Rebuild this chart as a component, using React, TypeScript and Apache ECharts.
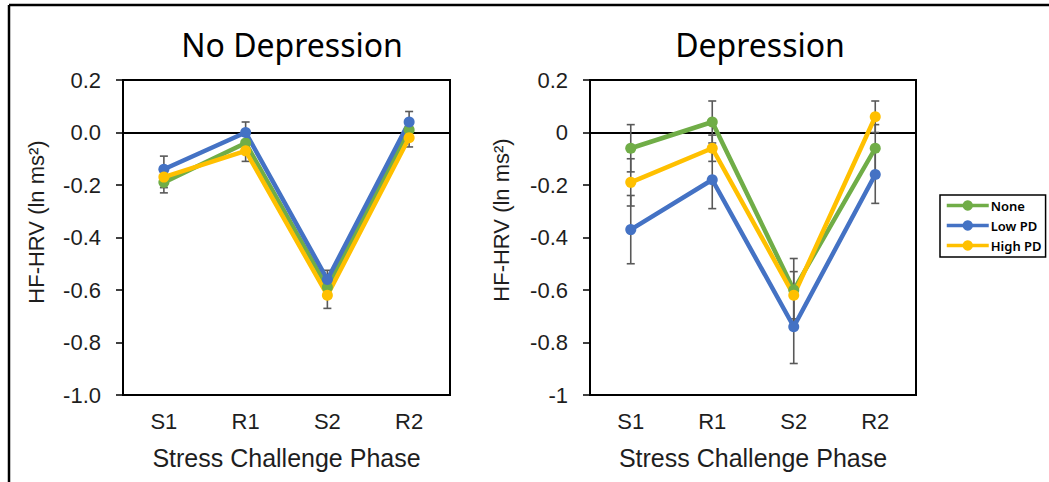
import React, { useEffect, useRef } from "react";
import * as echarts from "echarts";

const categories = ["S1", "R1", "S2", "R2"];
const seriesNames = ["None", "Low PD", "High PD"];
const colors = ["#70AD47", "#4472C4", "#FFC000"];
const yTicks = [-1, -0.8, -0.6, -0.4, -0.2, 0, 0.2];

// No Depression
const noDepNone = [-0.19, -0.04, -0.59, 0.01];
const noDepLow = [-0.14, 0.0, -0.56, 0.04];
const noDepHigh = [-0.17, -0.07, -0.62, -0.02];
const noDepNoneErr = [0.04, 0.04, 0.04, 0.04];
const noDepLowErr = [0.05, 0.04, 0.035, 0.04];
const noDepHighErr = [0.04, 0.04, 0.05, 0.035];

// Depression
const depNone = [-0.06, 0.04, -0.6, -0.06];
const depLow = [-0.37, -0.18, -0.74, -0.16];
const depHigh = [-0.19, -0.06, -0.62, 0.06];
const depNoneErr = [0.09, 0.08, 0.12, 0.09];
const depLowErr = [0.13, 0.11, 0.14, 0.11];
const depHighErr = [0.09, 0.05, 0.09, 0.06];

const titles = ["No Depression", "Depression"];
const yName = "HF-HRV (ln ms²)";
const xName = "Stress Challenge Phase";

const FONT = "'Liberation Sans', Arial, sans-serif";
const TITLE_FONT = "'Noto Sans', 'Open Sans', sans-serif";
const TXT = "#1e1e1e";

function errRender(params: any, api: any) {
  const x = api.value(0);
  const lo = api.coord([x, api.value(1)]);
  const hi = api.coord([x, api.value(2)]);
  const hw = 4;
  const st = { stroke: "#595959", lineWidth: 1.6 };
  return {
    type: "group",
    children: [
      { type: "line", shape: { x1: lo[0], y1: lo[1], x2: hi[0], y2: hi[1] }, style: st },
      { type: "line", shape: { x1: lo[0] - hw, y1: lo[1], x2: lo[0] + hw, y2: lo[1] }, style: st },
      { type: "line", shape: { x1: hi[0] - hw, y1: hi[1], x2: hi[0] + hw, y2: hi[1] }, style: st },
    ],
  };
}

export default function App() {
  const ref = useRef<HTMLDivElement>(null);
  useEffect(() => {
    if (!ref.current) return;
    const chart = echarts.init(ref.current, null, { renderer: "svg" });
    const groups = [
      { vals: [noDepNone, noDepLow, noDepHigh], errs: [noDepNoneErr, noDepLowErr, noDepHighErr], fmt: (v: number) => v.toFixed(1) },
      { vals: [depNone, depLow, depHigh], errs: [depNoneErr, depLowErr, depHighErr], fmt: (v: number) => String(Math.round(v * 10) / 10) },
    ];
    const grids = [
      { left: 123, right: 1049 - 450, top: 80, bottom: 482 - 395 },
      { left: 590, right: 1049 - 916, top: 80, bottom: 482 - 395 },
    ];
    const series: any[] = [];
    groups.forEach((g, gi) => {
      g.vals.forEach((vals, si) => {
        series.push({
          type: "custom",
          name: "err-" + gi + "-" + si,
          xAxisIndex: gi,
          yAxisIndex: gi,
          z: 1,
          silent: true,
          renderItem: errRender,
          encode: { x: 0, y: [1, 2] },
          data: vals.map((v, i) => [i, v - g.errs[si][i], v + g.errs[si][i]]),
        });
      });
      g.vals.forEach((vals, si) => {
        series.push({
          type: "line",
          name: seriesNames[si],
          xAxisIndex: gi,
          yAxisIndex: gi,
          z: 3,
          data: vals,
          symbol: "circle",
          symbolSize: 11,
          color: colors[si],
          lineStyle: { width: 4.5, color: colors[si] },
          itemStyle: { color: colors[si] },
          markLine:
            si === 0
              ? {
                  silent: true,
                  symbol: "none",
                  z: 0,
                  label: { show: false },
                  lineStyle: { color: "#000", width: 2, type: "solid" },
                  data: [{ yAxis: 0 }],
                }
              : undefined,
        });
      });
    });

    const option: any = {
      animation: false,
      backgroundColor: "#fff",
      grid: grids.map((g) => ({ ...g, show: true, borderColor: "#000", borderWidth: 2, backgroundColor: "transparent" })),
      xAxis: grids.map((_, gi) => ({
        type: "category",
        gridIndex: gi,
        data: categories,
        axisLine: { show: true, lineStyle: { color: "#000", width: 2 } },
        axisTick: { show: false },
        axisLabel: { fontSize: 22, color: TXT, margin: 15, fontFamily: FONT },
        name: xName,
        nameLocation: "middle",
        nameGap: 50,
        nameTextStyle: { fontSize: 25, color: TXT, fontFamily: FONT },
      })),
      yAxis: grids.map((_, gi) => ({
        type: "value",
        gridIndex: gi,
        min: yTicks[0],
        max: yTicks[yTicks.length - 1],
        interval: 0.2,
        axisLine: { show: true, lineStyle: { color: "#000", width: 2 } },
        axisTick: { show: true, length: 7, lineStyle: { color: "#000", width: 1.5 } },
        splitLine: { show: false },
        axisLabel: { fontSize: 22, color: TXT, margin: 22, fontFamily: FONT, formatter: groups[gi].fmt },
      })),
      legend: {
        data: seriesNames,
        orient: "vertical",
        left: 940,
        top: 195,
        padding: [4, 4, 5, 5],
        itemGap: 7,
        itemWidth: 42,
        itemHeight: 13,
        borderColor: "#000",
        borderWidth: 1.5,
        lineStyle: { width: 3.5 },
        textStyle: { fontSize: 13, fontWeight: 600, color: "#000", fontFamily: TITLE_FONT, padding: [0, 0, 0, -3] },
      },
      graphic: [
        { type: "line", shape: { x1: 9, y1: 482, x2: 9, y2: 5 }, style: { stroke: "#000", lineWidth: 2.5 } },
        { type: "line", shape: { x1: 9, y1: 5, x2: 1049, y2: 5 }, style: { stroke: "#000", lineWidth: 2.5 } },
        {
          type: "text",
          x: 292,
          y: 44,
          style: { text: titles[0], align: "center", verticalAlign: "middle", fontSize: 32, fontFamily: TITLE_FONT, fill: "#000" },
        },
        {
          type: "text",
          x: 760,
          y: 44,
          style: { text: titles[1], align: "center", verticalAlign: "middle", fontSize: 32, fontFamily: TITLE_FONT, fill: "#000" },
        },
        {
          type: "text",
          x: 36,
          y: 222,
          rotation: Math.PI / 2,
          style: { text: yName, align: "center", verticalAlign: "middle", fontSize: 22, fontFamily: FONT, fill: TXT },
        },
        {
          type: "text",
          x: 501,
          y: 220,
          rotation: Math.PI / 2,
          style: { text: yName, align: "center", verticalAlign: "middle", fontSize: 22, fontFamily: FONT, fill: TXT },
        },
      ],
      series,
    };
    chart.setOption(option);
    return () => chart.dispose();
  }, []);
  return (
    <div
      ref={ref}
      style={{ position: "absolute", left: 0, top: 0, width: 1049, height: 482, background: "#fff" }}
    />
  );
}
